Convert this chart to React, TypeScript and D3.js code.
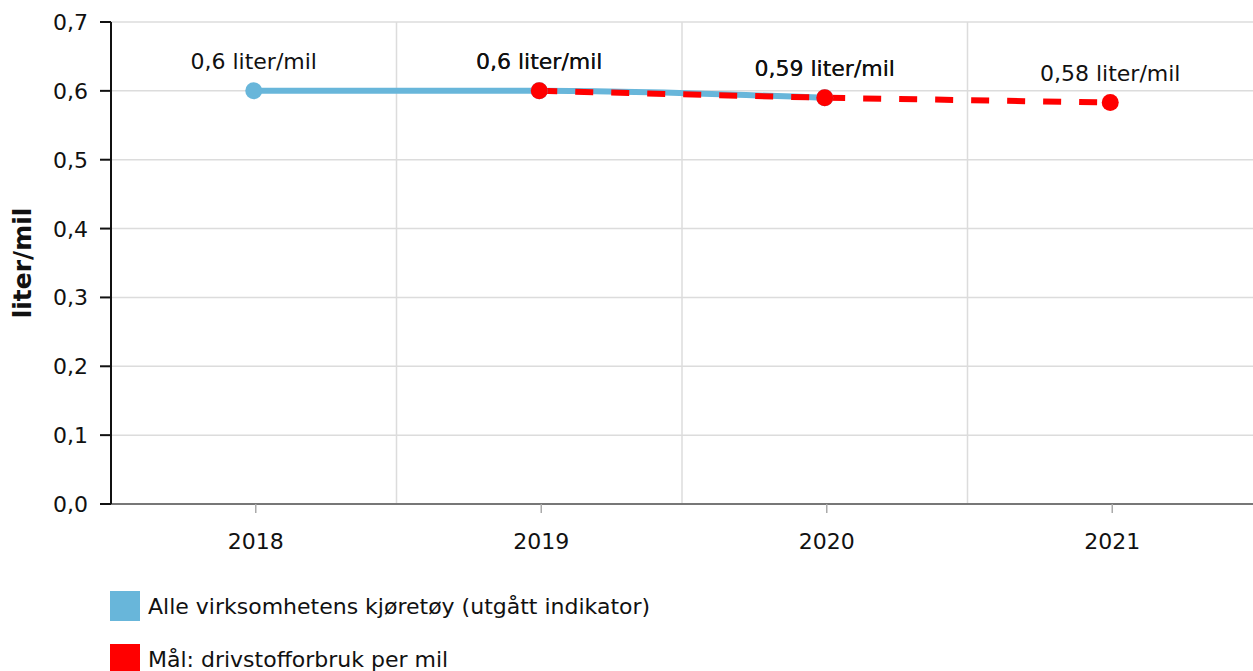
import React from "react";
import * as d3 from "d3";

const years = ["2018", "2019", "2020", "2021"];
const seriesAll: (number | null)[] = [0.6, 0.6, 0.59, null];
const seriesGoal: (number | null)[] = [null, 0.6, 0.59, 0.583];
const labelsAll = ["0,6 liter/mil", "0,6 liter/mil", "0,59 liter/mil", ""];
const labelsGoal = ["", "0,6 liter/mil", "0,59 liter/mil", "0,58 liter/mil"];
const yTicks = [0, 0.1, 0.2, 0.3, 0.4, 0.5, 0.6, 0.7];
const legendNames = ["Alle virksomhetens kjøretøy (utgått indikator)", "Mål: drivstofforbruk per mil"];
const colors = ["#68b6da", "#ff0000"];

export default function App() {
  const W = 1253, H = 671;
  const left = 111, right = 1253, top = 22, bottom = 504;
  const x = d3.scaleBand<string>().domain(years).range([left, right]);
  const y = d3.scaleLinear().domain([0, 0.7]).range([bottom, top]);
  const cx = (i: number) => (x(years[i]) as number) + x.bandwidth() / 2;
  const font = "'DejaVu Sans', Verdana, sans-serif";
  const fs = 22;

  const mk = (arr: (number | null)[]) =>
    arr.map((v, i) => ({ v, i })).filter((d) => d.v !== null) as { v: number; i: number }[];
  const allPts = mk(seriesAll);
  const goalPts = mk(seriesGoal);
  const lineSmooth = d3.line<{ v: number; i: number }>().x((d) => cx(d.i)).y((d) => y(d.v)).curve(d3.curveMonotoneX);
  const lineStraight = d3.line<{ v: number; i: number }>().x((d) => cx(d.i)).y((d) => y(d.v));

  const fmt = (v: number) => v.toFixed(1).replace(".", ",");

  return (
    <svg width={W} height={H} style={{ position: "absolute", left: 0, top: 0 }} fontFamily={font}>
      <rect width={W} height={H} fill="#fff" />
      {yTicks.map((t) => (
        <line key={"g" + t} x1={left} x2={right} y1={y(t)} y2={y(t)} stroke="#dcdcdc" strokeWidth={1.5} />
      ))}
      {years.slice(1).map((yr) => (
        <line key={"v" + yr} x1={x(yr)} x2={x(yr)} y1={top} y2={bottom} stroke="#dcdcdc" strokeWidth={1.5} />
      ))}
      <line x1={left} x2={right} y1={bottom} y2={bottom} stroke="#777" strokeWidth={2} />
      {years.map((yr, i) => (
        <g key={"x" + yr}>
          <line x1={cx(i) + 2} x2={cx(i) + 2} y1={bottom} y2={bottom + 9} stroke="#aaa" strokeWidth={1.5} />
          <text x={cx(i) + 2} y={549} textAnchor="middle" fontSize={fs} fill="#111">{yr}</text>
        </g>
      ))}
      <line x1={left} x2={left} y1={top} y2={bottom} stroke="#111" strokeWidth={2} />
      {yTicks.map((t) => (
        <g key={"y" + t}>
          <line x1={100} x2={left} y1={y(t)} y2={y(t)} stroke="#111" strokeWidth={2} />
          <text x={88} y={y(t) + 8} textAnchor="end" fontSize={fs} fill="#111">{fmt(t)}</text>
        </g>
      ))}
      <text transform={`translate(31,${(top + bottom) / 2 + 0}) rotate(-90)`} textAnchor="middle" fontSize={25} fontWeight="bold" fill="#111">liter/mil</text>

      <path d={lineSmooth(allPts) || ""} fill="none" stroke={colors[0]} strokeWidth={6} />
      <path d={lineStraight(goalPts) || ""} fill="none" stroke={colors[1]} strokeWidth={6} strokeDasharray="18,18" />

      {allPts.map((d) => (
        <circle key={"a" + d.i} cx={cx(d.i)} cy={y(d.v)} r={8.5} fill={colors[0]} />
      ))}
      {goalPts.map((d) => (
        <circle key={"r" + d.i} cx={cx(d.i)} cy={y(d.v)} r={8.5} fill={colors[1]} />
      ))}

      {allPts.map((d) => (
        <text key={"la" + d.i} x={cx(d.i)} y={y(d.v) - 22} textAnchor="middle" fontSize={fs} fill="#111">{labelsAll[d.i]}</text>
      ))}
      {goalPts.map((d) => (
        <text key={"lr" + d.i} x={cx(d.i)} y={y(d.v) - 22} textAnchor="middle" fontSize={fs} fill="#111">{labelsGoal[d.i]}</text>
      ))}

      {legendNames.map((n, i) => (
        <g key={"lg" + i} transform={`translate(110,${591 + i * 53})`}>
          <rect width={30} height={30} fill={colors[i]} />
          <text x={38} y={23} fontSize={fs} fill="#111">{n}</text>
        </g>
      ))}
    </svg>
  );
}
